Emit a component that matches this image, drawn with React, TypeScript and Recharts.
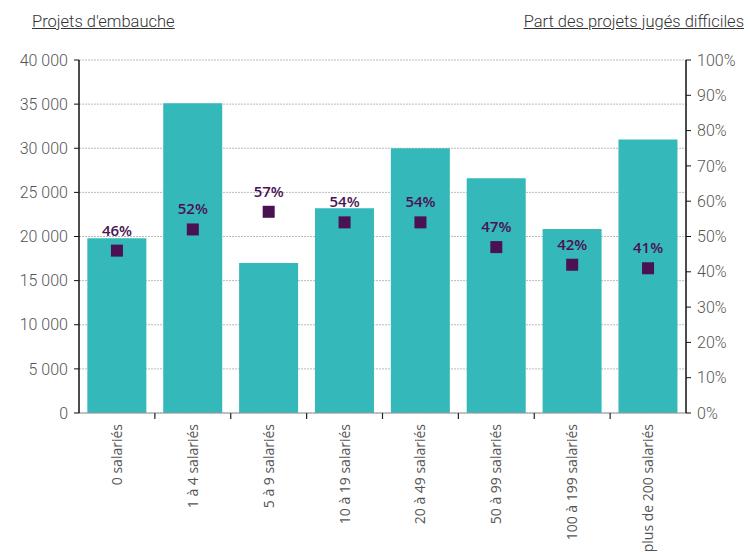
import React from 'react';
import { ComposedChart, Bar, Line, XAxis, YAxis, CartesianGrid, LabelList } from 'recharts';

const categories = ['0 salariés', '1 à 4 salariés', '5 à 9 salariés', '10 à 19 salariés', '20 à 49 salariés', '50 à 99 salariés', '100 à 199 salariés', 'plus de 200 salariés'];
const projets = [19800, 35100, 17000, 23200, 30000, 26600, 20850, 31000];
const parts = [46, 52, 57, 54, 54, 47, 42, 41];
const leftTicks = [0, 5000, 10000, 15000, 20000, 25000, 30000, 35000, 40000];
const rightTicks = [0, 10, 20, 30, 40, 50, 60, 70, 80, 90, 100];

const data = categories.map((c, i) => ({ cat: c, projets: projets[i], part: parts[i] }));

const TEAL = '#35b8b9';
const PURPLE = '#4a1252';
const TICK_FONT = 'Roboto, sans-serif';

const fmtThousands = (v: number) => String(v).replace(/\B(?=(\d{3})+(?!\d))/g, ' ');

const XTick = (props: any) => {
  const { x, payload, index } = props;
  const off = payload.offset || 0;
  const bx = payload.coordinate - off;
  return (
    <g>
      {index > 0 && <line x1={bx} x2={bx} y1={413} y2={419} stroke="#222" strokeWidth={1.2} />}
      <text
        transform={`translate(${x + 5},${424}) rotate(-90)`}
        textAnchor="end"
        fontFamily="'Open Sans', sans-serif"
        fontSize={14}
        fill="#555"
      >
        {payload.value}
      </text>
    </g>
  );
};

const Square = (props: any) => {
  const { cx, cy } = props;
  if (cx == null || cy == null) return null;
  return <rect x={cx - 6} y={cy - 6} width={12} height={12} fill={PURPLE} />;
};

const titleStyle: React.CSSProperties = {
  position: 'absolute',
  top: 12,
  fontFamily: TICK_FONT,
  fontWeight: 300,
  fontSize: 16.5,
  color: '#333',
  textDecoration: 'underline',
  whiteSpace: 'nowrap',
};

export default function App() {
  return (
    <div style={{ position: 'absolute', left: 0, top: 0, width: 745, height: 554, overflow: 'hidden' }}>
      <div style={{ ...titleStyle, left: 32 }}>Projets d'embauche</div>
      <div style={{ ...titleStyle, right: 1 }}>Part des projets jugés difficiles</div>
      <ComposedChart
        width={745}
        height={554}
        data={data}
        margin={{ top: 60, right: 0, bottom: 0, left: 0 }}
        barCategoryGap="11%"
      >
        <CartesianGrid yAxisId="left" vertical={false} stroke="#bbb" strokeDasharray="2 1" />
        <XAxis
          dataKey="cat"
          interval={0}
          tick={<XTick />}
          tickLine={false}
          axisLine={{ stroke: '#999' }}
          height={141}
        />
        <YAxis
          yAxisId="left"
          domain={[0, 40000]}
          ticks={leftTicks}
          width={79}
          tickFormatter={fmtThousands}
          tick={{ fontFamily: TICK_FONT, fontWeight: 300, fontSize: 16, fill: '#555' }}
          axisLine={{ stroke: '#111', strokeWidth: 1.5 }}
          tickLine={{ stroke: '#111' }}
          tickSize={5}
          tickMargin={6}
        />
        <YAxis
          yAxisId="right"
          orientation="right"
          domain={[0, 100]}
          ticks={rightTicks}
          width={59}
          tickFormatter={(v: number) => `${v}%`}
          tick={{ fontFamily: TICK_FONT, fontWeight: 300, fontSize: 16, fill: '#555' }}
          axisLine={{ stroke: '#111', strokeWidth: 1.5 }}
          tickLine={{ stroke: '#111' }}
          tickSize={5}
          tickMargin={6}
        />
        <Bar yAxisId="left" dataKey="projets" fill={TEAL} isAnimationActive={false} />
        <Line
          yAxisId="right"
          dataKey="part"
          stroke="none"
          dot={<Square />}
          activeDot={false}
          isAnimationActive={false}
        >
          <LabelList
            dataKey="part"
            position="top"
            offset={15}
            formatter={(v: number) => `${v}%`}
            style={{ fontFamily: "'Open Sans', sans-serif", fontSize: 15, fontWeight: 600, fill: PURPLE }}
          />
        </Line>
      </ComposedChart>
    </div>
  );
}
